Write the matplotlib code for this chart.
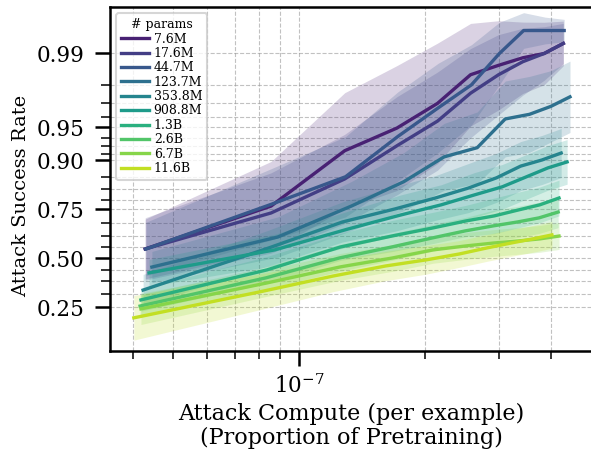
import matplotlib
matplotlib.use("Agg")
import matplotlib.pyplot as plt
import matplotlib.ticker as mticker
import numpy as np

# =============================================================================
# Data
# =============================================================================
MODEL_SIZES = ["7.6M", "17.6M", "44.7M", "123.7M", "353.8M",
               "908.8M", "1.3B", "2.6B", "6.7B", "11.6B"]
ITERATIONS = [1, 2, 3, 4, 5, 6, 7, 8, 9, 10]
# attack compute of one iteration, as proportion of pretraining compute
COMPUTE_PER_ITER = [4.28e-8, 4.28e-8, 4.30e-8, 4.44e-8, 4.23e-8,
                    4.37e-8, 4.18e-8, 4.16e-8, 4.18e-8, 4.02e-8]

ASR_7_6M = [0.553, 0.764, 0.918, 0.949, 0.970, 0.984, 0.987, 0.989, 0.990, 0.992]
ASR_17_6M = [0.553, 0.735, 0.856, 0.926, 0.956, 0.976, 0.984, 0.988, 0.990, 0.992]
ASR_44_7M = [0.553, 0.772, 0.862, 0.939, 0.967, 0.980, 0.990, 0.994, 0.994, 0.994]
ASR_123_7M = [0.452, 0.618, 0.764, 0.848, 0.907, 0.923, 0.958, 0.962, 0.968, 0.974]
ASR_353_8M = [0.330, 0.559, 0.694, 0.752, 0.795, 0.829, 0.859, 0.888, 0.901, 0.914]
ASR_908_8M = [0.420, 0.548, 0.660, 0.726, 0.769, 0.806, 0.833, 0.862, 0.884, 0.897]
ASR_1_3B = [0.283, 0.436, 0.564, 0.624, 0.665, 0.699, 0.722, 0.748, 0.769, 0.795]
ASR_2_6B = [0.256, 0.393, 0.503, 0.564, 0.613, 0.650, 0.675, 0.694, 0.713, 0.739]
ASR_6_7B = [0.244, 0.366, 0.453, 0.503, 0.548, 0.570, 0.586, 0.597, 0.608, 0.623]
ASR_11_6B = [0.209, 0.321, 0.403, 0.458, 0.492, 0.525, 0.559, 0.586, 0.608, 0.629]

# half-width of the shaded band (in log-odds)
SPREAD_7_6M = [0.67, 1.0, 1.3, 1.4, 1.35, 1.15, 1.0, 0.8, 0.7, 0.5]
SPREAD_17_6M = [0.7, 0.9, 1.0, 1.1, 1.1, 1.0, 0.9, 0.75, 0.6, 0.45]
SPREAD_44_7M = [0.6, 0.8, 0.9, 1.0, 1.0, 0.9, 0.7, 0.4, 0.3, 0.25]
SPREAD_123_7M = [0.35, 0.45, 0.55, 0.65, 0.75, 0.8, 0.85, 0.85, 0.8, 0.8]
SPREAD_353_8M = [0.35, 0.4, 0.45, 0.5, 0.5, 0.55, 0.55, 0.55, 0.55, 0.55]
SPREAD_908_8M = [0.3, 0.35, 0.4, 0.45, 0.45, 0.5, 0.5, 0.5, 0.5, 0.5]
SPREAD_1_3B = [0.25, 0.3, 0.3, 0.35, 0.35, 0.35, 0.4, 0.4, 0.4, 0.4]
SPREAD_2_6B = [0.25, 0.25, 0.3, 0.3, 0.3, 0.3, 0.35, 0.35, 0.35, 0.35]
SPREAD_6_7B = [0.35, 0.3, 0.3, 0.3, 0.3, 0.3, 0.3, 0.3, 0.3, 0.3]
SPREAD_11_6B = [0.5, 0.4, 0.35, 0.33, 0.32, 0.3, 0.3, 0.3, 0.3, 0.3]

ASR = [ASR_7_6M, ASR_17_6M, ASR_44_7M, ASR_123_7M, ASR_353_8M,
       ASR_908_8M, ASR_1_3B, ASR_2_6B, ASR_6_7B, ASR_11_6B]
SPREAD = [SPREAD_7_6M, SPREAD_17_6M, SPREAD_44_7M, SPREAD_123_7M, SPREAD_353_8M,
          SPREAD_908_8M, SPREAD_1_3B, SPREAD_2_6B, SPREAD_6_7B, SPREAD_11_6B]

Y_TICKS = [0.25, 0.50, 0.75, 0.90, 0.95, 0.99]

# =============================================================================
# Style
# =============================================================================
plt.rcParams["font.family"] = ["DejaVu Serif"]
plt.rcParams["mathtext.fontset"] = "dejavuserif"

W, H, DPI = 591, 454, 100
fig = plt.figure(figsize=(W / DPI, H / DPI), dpi=DPI)
ax = fig.add_axes([110 / W, (H - 351) / H, 483 / W, 344 / H])

colors = plt.cm.viridis(np.linspace(0, 1, len(MODEL_SIZES) + 2)[1:-1])


def expit(v):
    return 1.0 / (1.0 + np.exp(-v))


def logit(p):
    p = np.asarray(p)
    return np.log(p / (1 - p))


for i, size in enumerate(MODEL_SIZES):
    x = COMPUTE_PER_ITER[i] * np.array(ITERATIONS)
    y = np.array(ASR[i])
    s = np.array(SPREAD[i])
    ax.fill_between(x, expit(logit(y) - s), expit(logit(y) + s),
                    color=colors[i], alpha=0.2, linewidth=0, zorder=1)

for i, size in enumerate(MODEL_SIZES):
    x = COMPUTE_PER_ITER[i] * np.array(ITERATIONS)
    ax.plot(x, ASR[i], color=colors[i], lw=2.4, label=size, zorder=3)

ax.set_xscale("log")
ax.set_yscale("logit")
ax.set_xlim(3.525e-8, 5.04e-7)
ax.set_ylim(0.1116, 0.99645)

ax.xaxis.set_major_locator(mticker.LogLocator(base=10))
ax.xaxis.set_minor_locator(mticker.LogLocator(base=10, subs=np.arange(2, 10)))
ax.xaxis.set_minor_formatter(mticker.NullFormatter())

ax.yaxis.set_major_locator(mticker.FixedLocator(Y_TICKS))
ax.yaxis.set_major_formatter(mticker.FixedFormatter([f"{t:.2f}" for t in Y_TICKS]))
minor = []
for a, b in zip(Y_TICKS[:-1], Y_TICKS[1:]):
    minor += list(np.linspace(a, b, 5)[1:-1])
ax.yaxis.set_minor_locator(mticker.FixedLocator(minor))
ax.yaxis.set_minor_formatter(mticker.NullFormatter())

ax.tick_params(which="major", length=10.5, width=1.8, labelsize=15.5)
ax.tick_params(axis="x", which="major", pad=6)
ax.tick_params(axis="y", which="major", pad=8)
ax.tick_params(which="minor", length=6.5, width=1.1)
ax.tick_params(axis="x", which="minor", length=5.5)
for side in ["left", "bottom", "top"]:
    ax.spines[side].set_linewidth(1.8)
ax.spines["right"].set_visible(False)

ax.grid(which="both", linestyle="--", color="0.6", alpha=0.6, linewidth=0.8)
ax.set_axisbelow(True)

ax.set_xlabel("Attack Compute (per example)\n(Proportion of Pretraining)",
              fontsize=16, linespacing=1.1)
ax.set_ylabel("Attack Success Rate", fontsize=14)
ax.yaxis.set_label_coords(-0.165, 0.45)

leg = ax.legend(title="# params", loc="upper left", fontsize=9, title_fontsize=9,
                labelspacing=0.11, handlelength=2.2, handletextpad=0.4,
                borderpad=0.4, framealpha=0.8)
leg.get_frame().set_linewidth(1.5)

plt.savefig("out.png", dpi=DPI)
